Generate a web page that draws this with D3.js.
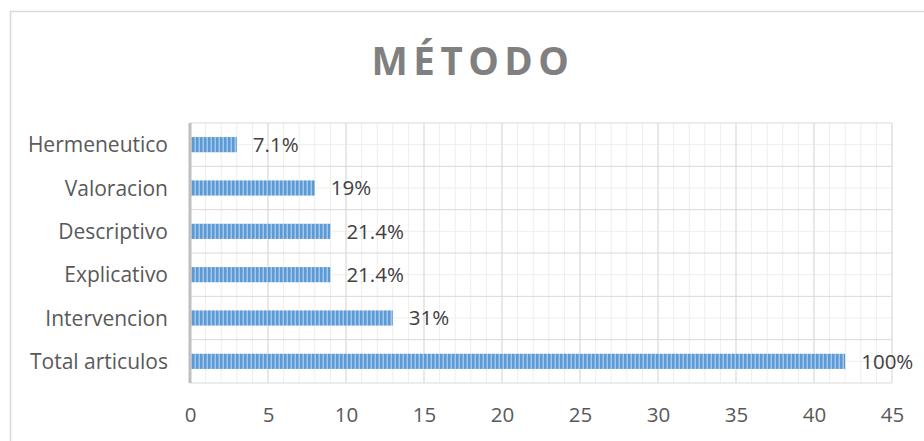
<!DOCTYPE html>
<html>
<head>
<meta charset="utf-8">
<script src="https://cdn.jsdelivr.net/npm/d3@7"></script>
<style>
  body { margin: 0; background: #fff; }
  text { font-family: "Open Sans", sans-serif; }
</style>
</head>
<body>
<div id="chart"></div>
<script>
// data
var categories = ["Hermeneutico", "Valoracion", "Descriptivo", "Explicativo", "Intervencion", "Total articulos"];
var values = [3, 8, 9, 9, 13, 42];
var labels = ["7.1%", "19%", "21.4%", "21.4%", "31%", "100%"];
var xTicks = [0, 5, 10, 15, 20, 25, 30, 35, 40, 45];

var width = 924, height = 441;
var plot = { left: 190, right: 892, top: 123, bottom: 383 };

var svg = d3.select("#chart").append("svg")
    .attr("width", width)
    .attr("height", height);

var defs = svg.append("defs");
var pat = defs.append("pattern")
    .attr("id", "stripes")
    .attr("patternUnits", "userSpaceOnUse")
    .attr("width", 4).attr("height", 4);
pat.append("rect").attr("width", 4).attr("height", 4).attr("fill", "#5b9bd5");
pat.append("rect").attr("x", 2.5).attr("width", 1.5).attr("height", 4).attr("fill", "#a4c6ea");

// chart frame (only left and top visible)
svg.append("path")
    .attr("d", "M10.5," + height + "V11.5H" + width)
    .attr("fill", "none")
    .attr("stroke", "#d9d9d9")
    .attr("stroke-width", 1.5);

var x = d3.scaleLinear().domain([0, 45]).range([plot.left, plot.right]);
var y = d3.scaleBand().domain(categories).range([plot.top, plot.bottom]);

// minor gridlines
var g = svg.append("g");
g.selectAll(".vminor").data(d3.range(0, 46)).enter().append("line")
    .attr("x1", function(d) { return x(d); }).attr("x2", function(d) { return x(d); })
    .attr("y1", plot.top).attr("y2", plot.bottom)
    .attr("stroke", "#eeeeee").attr("stroke-width", 1);
g.selectAll(".hminor").data(categories).enter().append("line")
    .attr("x1", plot.left).attr("x2", plot.right)
    .attr("y1", function(d) { return y(d) + y.bandwidth() / 2; })
    .attr("y2", function(d) { return y(d) + y.bandwidth() / 2; })
    .attr("stroke", "#eeeeee").attr("stroke-width", 1);

// major gridlines
g.selectAll(".vmajor").data(xTicks).enter().append("line")
    .attr("x1", function(d) { return x(d); }).attr("x2", function(d) { return x(d); })
    .attr("y1", plot.top).attr("y2", plot.bottom)
    .attr("stroke", "#d9d9d9").attr("stroke-width", 1);
g.selectAll(".hmajor").data(d3.range(categories.length + 1)).enter().append("line")
    .attr("x1", plot.left).attr("x2", plot.right)
    .attr("y1", function(d) { return plot.top + d * y.step(); })
    .attr("y2", function(d) { return plot.top + d * y.step(); })
    .attr("stroke", "#d9d9d9").attr("stroke-width", 1);

// bars
var barH = y.bandwidth() * 0.35;
svg.selectAll(".bar").data(values).enter().append("rect")
    .attr("x", x(0))
    .attr("y", function(d, i) { return y(categories[i]) + (y.bandwidth() - barH) / 2; })
    .attr("width", function(d) { return x(d) - x(0); })
    .attr("height", barH)
    .attr("fill", "url(#stripes)");

// data labels
svg.selectAll(".lbl").data(values).enter().append("text")
    .attr("x", function(d) { return x(d) + 16; })
    .attr("y", function(d, i) { return y(categories[i]) + y.bandwidth() / 2; })
    .attr("dy", "0.36em")
    .attr("font-size", 20.5)
    .attr("fill", "#404040")
    .text(function(d, i) { return labels[i]; });

// y axis line
svg.append("line")
    .attr("x1", x(0)).attr("x2", x(0))
    .attr("y1", plot.top).attr("y2", plot.bottom)
    .attr("stroke", "#bfbfbf").attr("stroke-width", 3);

// category labels
svg.selectAll(".cat").data(categories).enter().append("text")
    .attr("x", 168)
    .attr("y", function(d) { return y(d) + y.bandwidth() / 2; })
    .attr("dy", "0.36em")
    .attr("text-anchor", "end")
    .attr("font-size", 21)
    .attr("fill", "#595959")
    .text(function(d) { return d; });

// x axis tick labels
var xAxis = d3.axisBottom(x).tickValues(xTicks).tickSize(0).tickPadding(0);
var ax = svg.append("g")
    .attr("transform", "translate(0," + 407 + ")")
    .call(xAxis);
ax.select(".domain").remove();
ax.selectAll("text")
    .attr("dy", "0.72em")
    .attr("font-size", 20.5)
    .attr("font-family", "Open Sans, sans-serif")
    .attr("fill", "#595959");

// title
svg.append("text")
    .attr("x", 473)
    .attr("y", 75)
    .attr("text-anchor", "middle")
    .attr("font-size", 38.5)
    .attr("font-weight", "bold")
    .attr("letter-spacing", 5.5)
    .attr("fill", "#808080")
    .text("MÉTODO");
</script>
</body>
</html>
